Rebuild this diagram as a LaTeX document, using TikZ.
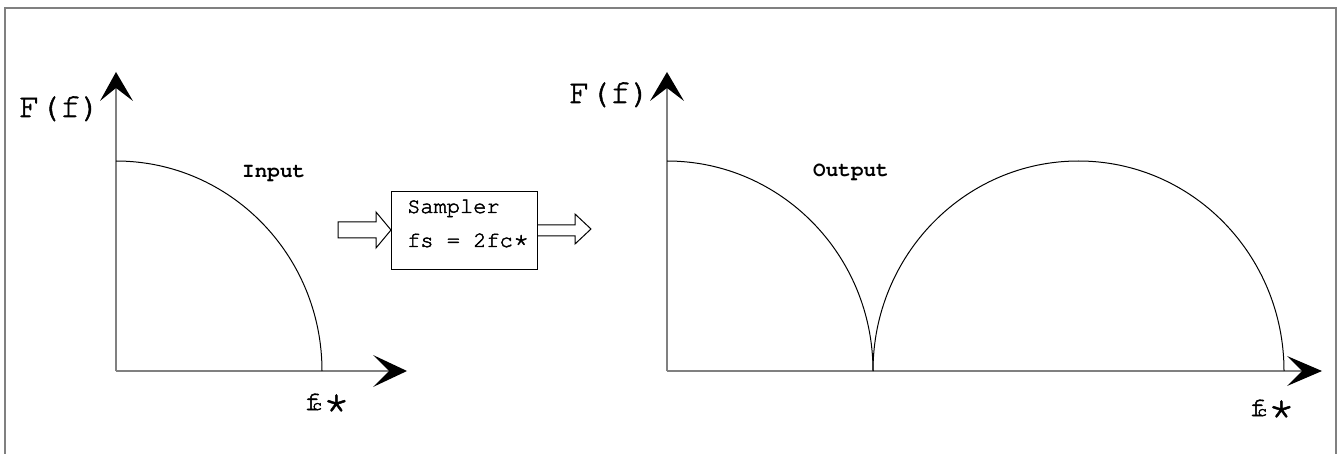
\documentclass[tikz,border=0pt]{standalone}
\usepackage[T1]{fontenc}
\newcommand\crr{\fontencoding{T1}\fontfamily{pcr}\selectfont}
\newcommand\thk[2]{\special{pdf:literal direct 2 Tr #1 w}#2\special{pdf:literal direct 0 Tr}}
\newcommand\fcstar{\thk{0.5}{{\fontsize{27}{27}\selectfont f}\kern-8pt{\fontsize{16}{16}\selectfont c}\kern0pt\raisebox{-5pt}{\fontsize{48}{48}\selectfont *}}}
\begin{document}
\begin{tikzpicture}[x=1pt,y=-1pt,
  axis/.style={draw=black!50, line width=1.6pt},
  curve/.style={draw=black, line width=1pt},
  head/.style={fill=black, draw=none},
  hollow/.style={draw=black, line width=1pt, fill=white, line join=miter},
  lbl/.style={inner sep=0pt, anchor=base west, font=\crr},
  box/.style={draw=black, line width=1.2pt, fill=white}]
\useasboundingbox (0,0) rectangle (1338,454);
\draw[draw=black!50, line width=2pt] (5,454) -- (5,8) -- (1336,8) -- (1336,454);

% ---- left graph
\coordinate (o1) at (116,371);
\coordinate (yt1) at (116,74);
\coordinate (xt1) at (405,371);
\draw[axis] (o1) -- (yt1);
\draw[axis] (o1) -- (xt1);
\fill[head] (116,72) -- (133,101) -- (116,88) -- (100,101) -- cycle;
\fill[head] (407,371) -- (373,387) -- (389,371) -- (373,355) -- cycle;
\draw[curve] (116,161) arc[start angle=90, end angle=0, x radius=206, y radius=-210];
\node[lbl, font=\crr\fontsize{34}{34}\selectfont] (F1) at (19,117) {\thk{0.55}{F(f)}};
\node[lbl, font=\crr\bfseries\fontsize{21}{21}\selectfont] (in) at (242,178) {Input};
\node[lbl] (fc1) at (304,410) {\fcstar};

% ---- sampler
\node[box, minimum width=146pt, minimum height=78pt, anchor=north west] (S) at (391,191) {};
\node[lbl, font=\crr\fontsize{22}{22}\selectfont] (s1) at (407,213) {\thk{0.45}{Sampler}};
\node[lbl, font=\crr\fontsize{22}{22}\selectfont] (s2) at (407,247) {\thk{0.45}{fs = 2fc{\fontsize{28}{28}\selectfont *}}};
\draw[hollow] (338,222) -- (376,222) -- (376,212) -- (S.west|-0,230) -- (376,248) -- (376,238) -- (338,238) -- cycle;
\draw[hollow] (S.east|-0,225) -- (575,225) -- (575,214) -- (591,229) -- (575,244) -- (575,236) -- (S.east|-0,236);

% ---- right graph
\coordinate (o2) at (667,371);
\coordinate (yt2) at (667,74);
\coordinate (xt2) at (1320,371);
\draw[axis] (o2) -- (yt2);
\draw[axis] (o2) -- (xt2);
\fill[head] (667,72) -- (684,101) -- (667,88) -- (650,101) -- cycle;
\fill[head] (1322,371) -- (1287,386) -- (1302,371) -- (1287,356) -- cycle;
\draw[curve] (667,161) arc[start angle=90, end angle=0, x radius=206, y radius=-210];
\draw[curve] (873,371) arc[start angle=180, end angle=0, x radius=205.5, y radius=-210];
\node[lbl, font=\crr\fontsize{34}{34}\selectfont] (F2) at (569,103) {\thk{0.55}{F(f)}};
\node[lbl, font=\crr\bfseries\fontsize{21}{21}\selectfont] (out) at (813,177) {Output};
\node[lbl] (fc2) at (1249,416) {\fcstar};
\end{tikzpicture}
\end{document}
